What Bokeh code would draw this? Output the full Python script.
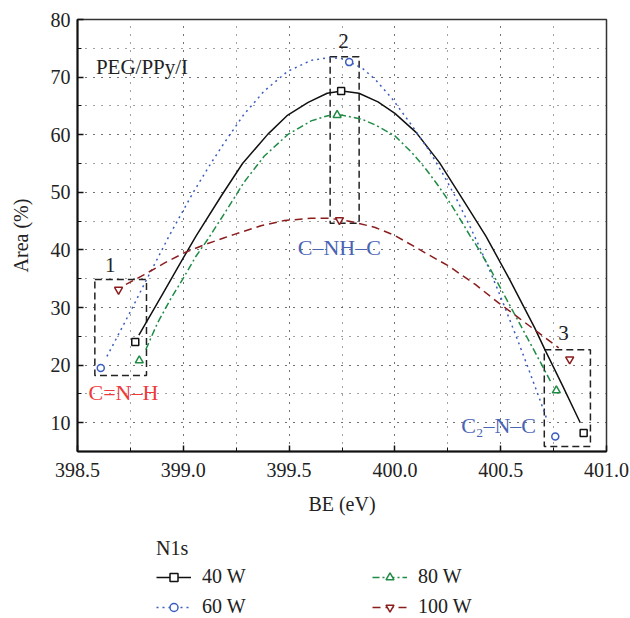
from bokeh.plotting import figure
from bokeh.layouts import column
from bokeh.models import (Range1d, Legend, LegendItem, SingleIntervalTicker,
                          NumeralTickFormatter)
from bokeh.embed import file_html
from bokeh.resources import INLINE
from bokeh.core.properties import value

FONT = "Liberation Serif"

# ---- data: measured points (markers) ----
be_40 = [398.773, 399.746, 400.892]
area_40 = [24.0, 67.6, 8.2]
be_60 = [398.610, 399.784, 400.758]
area_60 = [19.5, 72.6, 7.6]
be_80 = [398.792, 399.727, 400.763]
area_80 = [20.8, 63.4, 15.6]
be_100 = [398.694, 399.738, 400.826]
area_100 = [33.1, 45.2, 21.0]

# ---- data: fitted curves ----
curve_be_40 = [398.79, 398.90, 399.00, 399.06, 399.18, 399.28, 399.40, 399.49, 399.59,
               399.68, 399.75, 399.83, 399.92, 400.00, 400.10, 400.21, 400.32, 400.43,
               400.54, 400.66, 400.71, 400.79, 400.876]
curve_area_40 = [25.2, 32.2, 38.6, 42.4, 49.4, 55.0, 60.1, 63.3, 65.6,
                 67.2, 67.6, 67.2, 65.7, 63.7, 60.4, 55.2, 48.8, 42.4,
                 35.0, 26.5, 22.6, 16.6, 10.0]

curve_be_60 = [398.639, 398.689, 398.760, 398.823, 398.878, 398.934, 398.973, 399.044,
               399.123, 399.194, 399.288, 399.383, 399.493, 399.604, 399.690, 399.750,
               399.844, 399.907, 399.986, 400.080, 400.159, 400.222, 400.285, 400.348,
               400.395, 400.443, 400.506, 400.569, 400.632, 400.687, 400.722]
curve_area_60 = [21.5, 25.0, 30.0, 34.6, 38.5, 42.5, 45.1, 49.8,
                 54.6, 58.6, 63.6, 67.6, 71.0, 72.9, 73.4, 73.2,
                 71.6, 69.6, 66.3, 61.6, 57.4, 53.5, 49.3, 44.6,
                 40.9, 36.9, 31.3, 25.4, 19.3, 13.8, 10.2]

curve_be_80 = [398.823, 398.878, 398.942, 399.005, 399.060, 399.115, 399.194, 399.288,
               399.383, 399.493, 399.604, 399.683, 399.749, 399.844, 399.907, 400.000,
               400.080, 400.143, 400.206, 400.269, 400.317, 400.356, 400.380, 400.443,
               400.506, 400.569, 400.632, 400.695, 400.735]
curve_area_80 = [22.7, 27.3, 31.6, 35.4, 38.9, 41.8, 46.3, 51.8,
                 56.3, 60.0, 62.4, 63.3, 63.4, 62.7, 61.7, 59.8,
                 56.9, 54.2, 51.1, 47.7, 44.8, 42.4, 41.1, 37.2,
                 32.9, 28.6, 24.3, 20.0, 17.2]

curve_be_100 = [398.729, 398.815, 398.910, 399.005, 399.100, 399.194, 399.241, 399.367,
                399.478, 399.604, 399.690, 399.796, 399.907, 400.000, 400.143, 400.254,
                400.380, 400.490, 400.585, 400.680, 400.774]
curve_area_100 = [34.0, 35.7, 37.7, 39.5, 40.9, 42.1, 42.7, 44.2,
                  45.1, 45.5, 45.5, 44.9, 43.9, 42.5, 39.5, 37.2,
                  34.0, 30.8, 28.2, 25.6, 23.0]

series_labels = ["40 W", "60 W", "80 W", "100 W"]
legend_title = "N1s"

# ---- annotation boxes (dashed rectangles) ----
box_left = [398.582, 399.694, 400.706]
box_right = [398.826, 399.831, 400.924]
box_top = [34.84, 73.54, 22.67]
box_bottom = [18.2, 44.63, 5.87]
box_num = ["1", "2", "3"]
box_num_x = [398.655, 399.757, 400.797]
box_num_y = [37.3, 76.2, 25.5]

# ---- text annotations ----
peg_label = "PEG/PPy/I"
peg_x, peg_y = 398.587, 71.7
cnh_label = "C=N–H"
cnh_x, cnh_y = 398.552, 15.3
cnhc_label = "C–NH–C"
cnhc_x, cnhc_y = 399.541, 40.5
c2nc_label = "C₂–N–C"
c2nc_x, c2nc_y = 400.313, 9.5

C_BLACK = "#111111"
C_BLUE = "#3b5cc0"
C_GREEN = "#1f8c45"
C_RED = "#8b1d1d"
C_TXT_BLUE = "#4a64b4"
C_TXT_RED = "#ee3a3a"

STYLES = [
    dict(line=dict(line_color=C_BLACK, line_width=1.5),
         mark=dict(marker="square", size=7, line_color=C_BLACK)),
    dict(line=dict(line_color=C_BLUE, line_width=1.5, line_dash="2 4"),
         mark=dict(marker="circle", size=7, line_color=C_BLUE)),
    dict(line=dict(line_color=C_GREEN, line_width=1.5, line_dash="7 3 2 3"),
         mark=dict(marker="triangle", size=8, line_color=C_GREEN)),
    dict(line=dict(line_color=C_RED, line_width=1.5, line_dash="8 5"),
         mark=dict(marker="inverted_triangle", size=8, line_color=C_RED)),
]

p = figure(frame_width=529, frame_height=432, title=None,
           x_range=Range1d(398.5, 401.0), y_range=Range1d(5, 80),
           output_backend="svg", toolbar_location=None,
           min_border_left=77, min_border_right=24, min_border_top=19,
           min_border_bottom=79)
p.background_fill_color = "white"
p.border_fill_color = "white"
p.outline_line_color = "#333333"
p.outline_line_width = 1.5

# axes
p.xaxis.ticker = SingleIntervalTicker(interval=0.5, num_minor_ticks=2)
p.yaxis.ticker = SingleIntervalTicker(interval=10, num_minor_ticks=2)
p.xaxis.formatter = NumeralTickFormatter(format="0.0")
p.xaxis.axis_label = "BE (eV)"
p.yaxis.axis_label = "Area (%)"
for ax in (p.xaxis, p.yaxis):
    ax.axis_line_color = "#111111"
    ax.axis_line_width = 2
    ax.major_tick_in = 6
    ax.major_tick_out = 0
    ax.minor_tick_in = 4
    ax.minor_tick_out = 0
    ax.major_tick_line_color = "#111111"
    ax.minor_tick_line_color = "#111111"
    ax.major_tick_line_width = 1.5
    ax.major_label_text_font = FONT
    ax.major_label_text_font_size = "20px"
    ax.major_label_text_color = "#222222"
    ax.axis_label_text_font = FONT
    ax.axis_label_text_font_size = "20px"
    ax.axis_label_text_font_style = "normal"
    ax.axis_label_text_color = "#222222"
p.xaxis.major_label_standoff = 11
p.xaxis.axis_label_standoff = 13
p.yaxis.major_label_standoff = 7
p.yaxis.axis_label_standoff = 16

# grid (dotted, at major and minor positions)
for g in (p.xgrid, p.ygrid):
    g.grid_line_color = "#444444"
    g.grid_line_dash = "1 7"
    g.grid_line_width = 1
    g.minor_grid_line_color = "#444444"
    g.minor_grid_line_dash = "1 7"
    g.minor_grid_line_width = 1

# boxes
p.quad(left=box_left, right=box_right, top=box_top, bottom=box_bottom,
       fill_color=None, line_color="#222222", line_width=1.5, line_dash="7 4")
p.text(x=box_num_x, y=box_num_y, text=box_num, text_font=value(FONT),
       text_font_size="21px", text_color="#222222", text_align="center",
       text_baseline="middle")

# curves + markers
curves = [(curve_be_40, curve_area_40), (curve_be_60, curve_area_60),
          (curve_be_80, curve_area_80), (curve_be_100, curve_area_100)]
points = [(be_40, area_40), (be_60, area_60), (be_80, area_80), (be_100, area_100)]
for (cx, cy), st in zip(curves, STYLES):
    p.line(cx, cy, **st["line"])
for (mx, my), st in zip(points, STYLES):
    p.scatter(mx, my, fill_color="white", line_width=1.5, **st["mark"])

# text annotations
p.text(x=[peg_x], y=[peg_y], text=[peg_label], text_font=value(FONT),
       text_font_size="21px", text_color="#222222", text_baseline="middle")
p.text(x=[cnh_x], y=[cnh_y], text=[cnh_label], text_font=value(FONT),
       text_font_size="22px", text_color=C_TXT_RED, text_baseline="middle")
p.text(x=[cnhc_x], y=[cnhc_y], text=[cnhc_label], text_font=value(FONT),
       text_font_size="22px", text_color=C_TXT_BLUE, text_baseline="middle")
p.text(x=[c2nc_x], y=[c2nc_y], text=[c2nc_label], text_font=value(FONT),
       text_font_size="22px", text_color=C_TXT_BLUE, text_baseline="middle")

# ---- legend strip below the plot ----
leg = figure(width=630, height=88, title=None,
             x_range=Range1d(0, 1), y_range=Range1d(0, 1),
             x_axis_type=None, y_axis_type=None,
             output_backend="svg", toolbar_location=None,
             min_border_left=0, min_border_right=0, min_border_top=0,
             min_border_bottom=0, align="start")
leg.grid.visible = False
leg.outline_line_color = None
leg.background_fill_color = "white"
leg.border_fill_color = "white"

nan = float("nan")
items = []
for lab, st in zip(series_labels, STYLES):
    r1 = leg.line(x=[nan, nan], y=[nan, nan], **st["line"])
    r2 = leg.scatter(x=[nan], y=[nan], fill_color="white", line_width=1.5, **st["mark"])
    items.append(LegendItem(label=lab, renderers=[r1, r2], index=0))


def style_legend(lg):
    lg.title_text_font = FONT
    lg.title_text_font_size = "20px"
    lg.title_text_font_style = "normal"
    lg.title_text_color = "#222222"
    lg.label_text_font = FONT
    lg.label_text_font_size = "20px"
    lg.label_text_color = "#222222"
    lg.glyph_width = 35
    lg.glyph_height = 20
    lg.label_height = 20
    lg.label_standoff = 11
    lg.spacing = 7
    lg.title_standoff = 5
    lg.margin = 0
    lg.padding = 0
    lg.border_line_color = None
    lg.background_fill_alpha = 0


legend_a = Legend(items=items[:2], title=legend_title, location=(79, 0))
legend_b = Legend(items=items[2:], location=(295, 0))
style_legend(legend_a)
style_legend(legend_b)
leg.add_layout(legend_a, "center")
leg.add_layout(legend_b, "center")

layout = column(p, leg, spacing=0, align="start")
open("out.html", "w").write(file_html(layout, INLINE))
